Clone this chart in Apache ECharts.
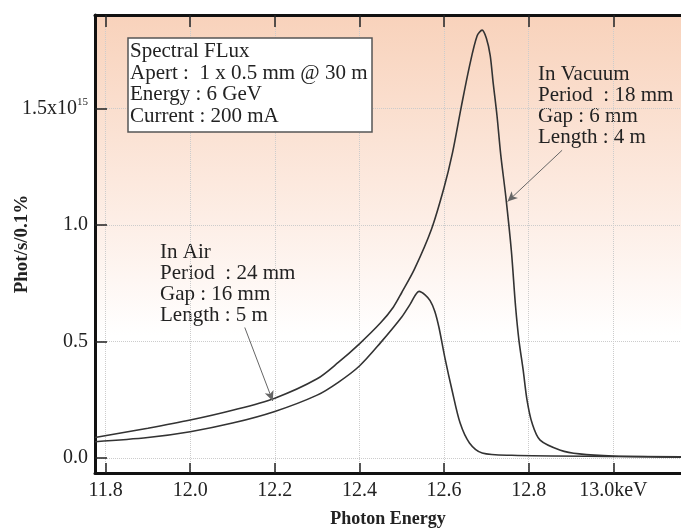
<!DOCTYPE html>
<html>
<head>
<meta charset="utf-8">
<script src="https://cdn.jsdelivr.net/npm/echarts@6/dist/echarts.min.js"></script>
<style>
  html, body { margin: 0; padding: 0; background: #fff; }
  #main { width: 681px; height: 531px; }
</style>
</head>
<body>
<div id="main"></div>
<script>
// photon energy (keV) and flux (x10^15 phot/s/0.1%)
var vacuumEnergy = [11.775, 11.9, 12.0, 12.1, 12.2, 12.3, 12.35, 12.4, 12.45, 12.48, 12.5, 12.53, 12.57, 12.6, 12.62, 12.64, 12.66, 12.678, 12.69, 12.70, 12.709, 12.716, 12.725, 12.734, 12.746, 12.759, 12.769, 12.777, 12.787, 12.796, 12.808, 12.827, 12.875, 12.92, 13.0, 13.16];
var vacuumFlux = [0.088, 0.128, 0.163, 0.205, 0.257, 0.34, 0.41, 0.49, 0.58, 0.647, 0.71, 0.81, 0.98, 1.16, 1.31, 1.50, 1.68, 1.81, 1.835, 1.80, 1.727, 1.61, 1.47, 1.30, 1.12, 0.89, 0.65, 0.505, 0.377, 0.25, 0.15, 0.077, 0.034, 0.018, 0.009, 0.004];

var airEnergy = [11.775, 11.9, 12.0, 12.1, 12.2, 12.3, 12.35, 12.4, 12.45, 12.5, 12.52, 12.541, 12.555, 12.567, 12.578, 12.588, 12.602, 12.619, 12.638, 12.66, 12.69, 12.76, 13.0, 13.16];
var airFlux = [0.07, 0.088, 0.113, 0.15, 0.2, 0.27, 0.325, 0.395, 0.495, 0.605, 0.66, 0.715, 0.70, 0.675, 0.63, 0.56, 0.43, 0.29, 0.15, 0.065, 0.022, 0.012, 0.007, 0.005];

var xTicks = [11.8, 12.0, 12.2, 12.4, 12.6, 12.8, 13.0];
var yTicks = [0, 0.5, 1.0, 1.5];

// arrow start (label) -> end (curve), data coords
var airArrow = [[12.129, 0.56], [12.195, 0.245]];
var vacuumArrow = [[12.879, 1.32], [12.75, 1.10]];

function pairs(xs, ys) {
    return xs.map(function (x, i) { return [x, ys[i]]; });
}

var serif = 'Liberation Serif';

var myChart = echarts.init(document.getElementById('main'));
var option = {
    backgroundColor: '#fff',
    animation: false,
    textStyle: { fontFamily: serif },
    grid: {
        left: 95,
        right: 0,
        top: 15,
        bottom: 58,
        outerBoundsMode: 'none',
        show: true,
        borderWidth: 0,
        backgroundColor: new echarts.graphic.LinearGradient(0, 0, 0, 1, [
            { offset: 0, color: '#f8d2bb' },
            { offset: 0.45, color: '#fdeee6' },
            { offset: 0.7, color: '#ffffff' },
            { offset: 1, color: '#ffffff' }
        ])
    },
    title: {
        left: 128,
        top: 38,
        text: 'Spectral FLux\nApert :  1 x 0.5 mm @ 30 m\nEnergy : 6 GeV\nCurrent : 200 mA',
        backgroundColor: '#fff',
        borderColor: '#555',
        borderWidth: 1.5,
        padding: [3, 5, 5, 2],
        textStyle: {
            fontFamily: serif,
            fontWeight: 'normal',
            fontSize: 21,
            lineHeight: 21.5,
            color: '#222'
        }
    },
    graphic: [{
        type: 'text',
        left: 538,
        top: 64,
        style: {
            text: 'In Vacuum\nPeriod  : 18 mm\nGap : 6 mm\nLength : 4 m',
            font: '21px "Liberation Serif"',
            lineHeight: 21,
            fill: '#222'
        }
    }, {
        type: 'text',
        left: 160,
        top: 242,
        style: {
            text: 'In Air\nPeriod  : 24 mm\nGap : 16 mm\nLength : 5 m',
            font: '21px "Liberation Serif"',
            lineHeight: 21,
            fill: '#222'
        }
    }],
    xAxis: [{
        type: 'value',
        min: 11.775,
        max: 13.16,
        name: 'Photon Energy',
        nameLocation: 'middle',
        nameGap: 37,
        nameMoveOverlap: false,
        nameTextStyle: { fontFamily: serif, fontWeight: 'bold', fontSize: 18, color: '#222' },
        axisLine: { onZero: false, lineStyle: { color: '#111', width: 3 } },
        axisTick: { inside: true, length: 10, customValues: xTicks, lineStyle: { color: '#222', width: 1.5 } },
        axisLabel: {
            customValues: xTicks,
            margin: 8,
            fontFamily: serif,
            fontSize: 20,
            color: '#222',
            formatter: function (v) {
                return Math.abs(v - 13) < 1e-6 ? '13.0keV' : v.toFixed(1);
            }
        },
        splitLine: { show: true, lineStyle: { color: '#cccccc', type: 'dotted', width: 1 } }
    }, {
        type: 'value',
        position: 'top',
        min: 11.775,
        max: 13.16,
        axisLine: { onZero: false, lineStyle: { color: '#111', width: 3 } },
        axisTick: { inside: true, length: 12, customValues: xTicks, lineStyle: { color: '#222', width: 1.5 } },
        axisLabel: { show: false },
        splitLine: { show: false }
    }],
    yAxis: [{
        type: 'value',
        min: -0.064,
        max: 1.9,
        name: 'Phot/s/0.1%',
        nameLocation: 'middle',
        nameGap: 63,
        nameMoveOverlap: false,
        nameTextStyle: { fontFamily: serif, fontWeight: 'bold', fontSize: 19, color: '#222' },
        axisLine: { onZero: false, lineStyle: { color: '#111', width: 3 } },
        axisTick: { inside: true, length: 12, customValues: yTicks, lineStyle: { color: '#222', width: 1.5 } },
        axisLabel: {
            customValues: yTicks,
            margin: 7,
            fontFamily: serif,
            fontSize: 20,
            color: '#222',
            formatter: function (v) {
                return Math.abs(v - 1.5) < 1e-6 ? '{b|1.5x10}{sup|15}' : v.toFixed(1);
            },
            rich: {
                b: { fontFamily: serif, fontSize: 20, color: '#222' },
                sup: { fontFamily: serif, fontSize: 11, color: '#222', padding: [0, 0, 12, 0] }
            }
        },
        splitLine: { show: true, lineStyle: { color: '#cccccc', type: 'dotted', width: 1 } }
    }],
    series: [{
        name: 'In Vacuum',
        type: 'line',
        xAxisIndex: 0,
        showSymbol: false,
        smooth: 0.3,
        lineStyle: { color: '#333', width: 1.6 },
        data: pairs(vacuumEnergy, vacuumFlux),
        markLine: {
            silent: true,
            symbol: ['none', 'arrow'],
            symbolSize: [7, 10],
            label: { show: false },
            lineStyle: { color: '#666', width: 1, type: 'solid' },
            data: [[{ coord: vacuumArrow[0] }, { coord: vacuumArrow[1] }]]
        }
    }, {
        name: 'In Air',
        type: 'line',
        xAxisIndex: 0,
        showSymbol: false,
        smooth: 0.3,
        lineStyle: { color: '#333', width: 1.6 },
        data: pairs(airEnergy, airFlux),
        markLine: {
            silent: true,
            symbol: ['none', 'arrow'],
            symbolSize: [7, 10],
            label: { show: false },
            lineStyle: { color: '#666', width: 1, type: 'solid' },
            data: [[{ coord: airArrow[0] }, { coord: airArrow[1] }]]
        }
    }]
};
myChart.setOption(option);
</script>
</body>
</html>
